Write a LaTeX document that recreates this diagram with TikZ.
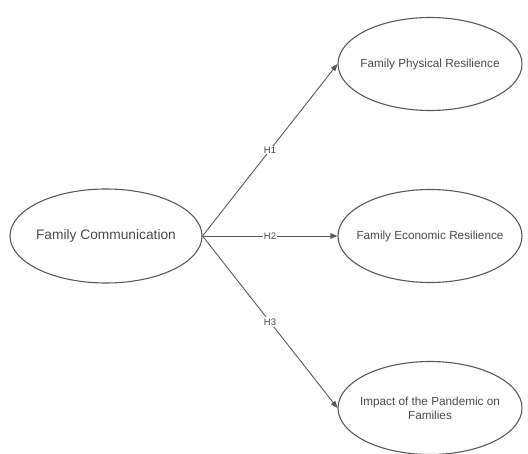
\documentclass[tikz,border=0pt]{standalone}
\usepackage{fontspec}
\setmainfont{Liberation Sans}
\usetikzlibrary{shapes.geometric,arrows.meta}
\definecolor{lc}{HTML}{5A5A5A}
\definecolor{tc}{HTML}{4A4A4A}
\begin{document}
\begin{tikzpicture}[x=1bp,y=-1bp,
  ell/.style={draw=lc,line width=1.1pt,ellipse,minimum width=184bp,minimum height=93bp,inner sep=0pt},
  txt/.style={text=tc,align=center,inner sep=0pt,font=\fontsize{11.8}{14}\selectfont},
  conn/.style={draw=lc,line width=0.9pt,-{Triangle[length=7bp,width=5.5bp]}},
  hlab/.style={fill=white,text=tc,font=\fontsize{9.5}{11}\selectfont,inner sep=1.2pt}]
\useasboundingbox (0,0) rectangle (528,454);
\node[ell,minimum width=192bp,minimum height=94bp] (fc) at (106,236) {};
\node[txt,font=\fontsize{13.8}{15}\selectfont] (fct) at (fc.center) {Family Communication};
\node[ell] (fp) at (430,64) {};
\node[txt] (fpt) at (fp.center) {Family Physical Resilience};
\node[ell] (fe) at (430,236) {};
\node[txt] (fet) at (fe.center) {Family Economic Resilience};
\node[ell] (ip) at (430,408) {};
\node[txt] (ipt) at (ip.center) {Impact of the Pandemic on\\Families};
\coordinate (s) at (fc.east);
\draw[conn] (s) -- node[hlab,pos=0.5] {H1} (fp.west);
\draw[conn] (s) -- node[hlab,pos=0.5] {H2} (fe.west);
\draw[conn] (s) -- node[hlab,pos=0.5] {H3} (ip.west);
\end{tikzpicture}
\end{document}
